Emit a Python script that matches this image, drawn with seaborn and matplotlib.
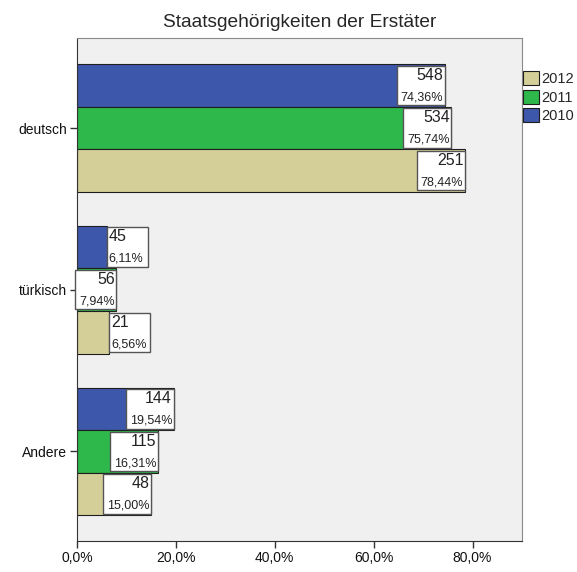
import matplotlib
matplotlib.use("Agg")
import matplotlib.pyplot as plt
from matplotlib.patches import Rectangle
import pandas as pd
import seaborn as sns

# data
categories = ["deutsch", "türkisch", "Andere"]
years = ["2010", "2011", "2012"]
pct_2010 = [74.36, 6.11, 19.54]
pct_2011 = [75.74, 7.94, 16.31]
pct_2012 = [78.44, 6.56, 15.00]
n_2010 = [548, 45, 144]
n_2011 = [534, 56, 115]
n_2012 = [251, 21, 48]
colors = {"2010": "#3d58ab", "2011": "#2eb74a", "2012": "#d4cf99"}

pcts = [pct_2010, pct_2011, pct_2012]
counts = [n_2010, n_2011, n_2012]

rows = []
for yr, p_list in zip(years, pcts):
    for cat, p in zip(categories, p_list):
        rows.append({"nat": cat, "year": yr, "pct": p})
df = pd.DataFrame(rows)

sns.set_style("ticks")
plt.rcParams['font.family'] = ['Liberation Sans', 'DejaVu Sans']

fig = plt.figure(figsize=(5.77, 5.72), dpi=100)
ax = fig.add_axes([77 / 577, 31 / 572, 445 / 577, 503 / 572])
ax.set_facecolor('#f0f0f0')

sns.barplot(data=df, x="pct", y="nat", hue="year", hue_order=years, order=categories,
            orient="h", palette=colors, width=0.79, saturation=1,
            edgecolor="#1e1e1e", linewidth=0.8, ax=ax)

ax.set_xlim(0, 90)
ax.set_ylim(2.554, -0.557)
ax.set_xticks([0, 20, 40, 60, 80])
ax.set_xticklabels(["0,0%", "20,0%", "40,0%", "60,0%", "80,0%"])
ax.set_xlabel("")
ax.set_ylabel("")
ax.tick_params(direction="out", length=5, width=1, color="#333333", labelsize=10,
               labelcolor="#111111", pad=2)
for s in ["left", "bottom"]:
    ax.spines[s].set_color("#333333")
for s in ["top", "right"]:
    ax.spines[s].set_color("#8a8a8a")

ax.set_title("Staatsgehörigkeiten der Erstäter", fontsize=13.8, pad=8)

# value boxes
px = 90 / 445
inset = 1.6 / 161.7
for cont, p_list, n_list in zip(ax.containers, pcts, counts):
    for bar, p, n in zip(cont, p_list, n_list):
        x_end = bar.get_width()
        y0 = bar.get_y()
        h = bar.get_height()
        bw = (48 if p >= 10 else 41) * px
        inside = p >= 7
        bx = x_end - bw if inside else x_end
        by = y0 + inset
        bh = h - 2 * inset
        ax.add_patch(Rectangle((bx, by), bw, bh, facecolor="white", edgecolor="#555555",
                               lw=1, zorder=4, clip_on=False))
        ptxt = f"{p:.2f}".replace(".", ",") + "%"
        if inside:
            tx, ha = bx + bw - 1.5 * px, "right"
        else:
            tx, ha = bx + 1.5 * px, "left"
        ax.text(tx, by + 0.012, str(n), ha=ha, va="top", fontsize=11.5, color="#222222", zorder=5)
        ax.text(tx, by + bh - 0.012, ptxt, ha=ha, va="bottom", fontsize=9, color="#222222", zorder=5)

handles, labels = ax.get_legend_handles_labels()
ax.get_legend().remove()
order = [2, 1, 0]
fig.legend([handles[i] for i in order], [labels[i] for i in order],
           loc="upper left", bbox_to_anchor=(523 / 577, 1 - 71 / 572), frameon=False,
           fontsize=10.5, handlelength=1.1, handleheight=1.1, handletextpad=0.15,
           labelspacing=0.25, borderpad=0, borderaxespad=0)

fig.savefig("out.png", dpi=100)
